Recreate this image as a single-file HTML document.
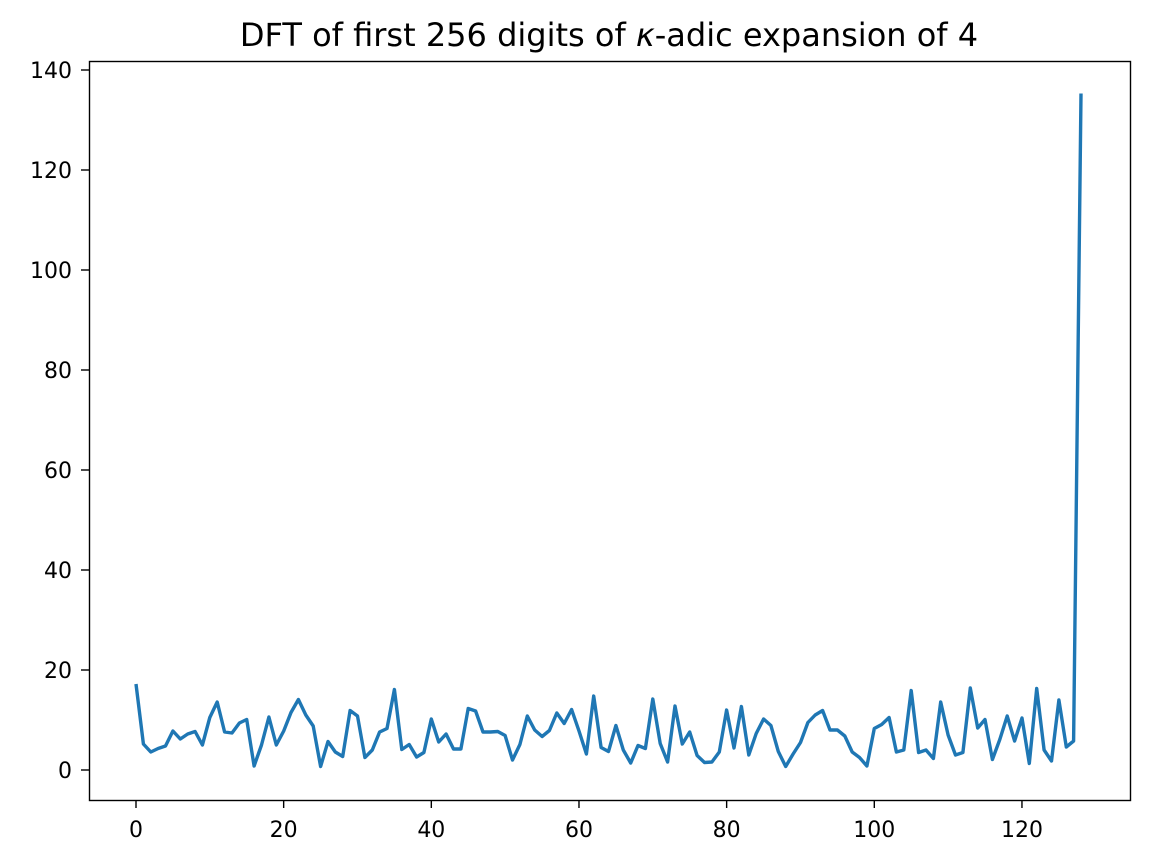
<!DOCTYPE html>
<html><head><meta charset="utf-8"><style>body{margin:0;background:#fff}svg{display:block}text{font-family:"DejaVu Sans","Liberation Sans",sans-serif;fill:#000}</style></head>
<body>
<svg id="s" width="1149" height="864" viewBox="0 0 1149 864">
<rect width="1149" height="864" fill="#fff"/>
<text x="609" y="46" font-size="32" text-anchor="middle">DFT of first 256 digits of <tspan font-style="italic">κ</tspan>-adic expansion of 4</text>
<g id="ticks" font-size="22"></g>
<polyline id="ln" fill="none" stroke="#1f77b4" stroke-width="3.4" stroke-linejoin="round" points=""/>
<rect x="89.5" y="61.5" width="1041" height="739" fill="none" stroke="#000" stroke-width="1.4"/>
</svg>
<script>
var v=[17.2,5.2,3.6,4.3,4.8,7.8,6.2,7.2,7.7,5.0,10.5,13.6,7.6,7.4,9.4,10.1,0.8,5.0,10.6,5.0,7.8,11.5,14.1,11.0,8.8,0.7,5.7,3.6,2.7,11.9,10.8,2.5,4.0,7.6,8.3,16.1,4.1,5.1,2.6,3.5,10.2,5.6,7.2,4.2,4.2,12.3,11.8,7.6,7.6,7.7,6.9,2.0,5.1,10.8,8.0,6.7,7.9,11.4,9.3,12.1,7.8,3.2,14.8,4.5,3.7,8.9,4.0,1.4,4.9,4.3,14.2,5.3,1.6,12.8,5.2,7.6,2.9,1.5,1.6,3.6,12.0,4.4,12.7,3.0,7.3,10.2,8.9,3.7,0.7,3.2,5.5,9.5,11.0,11.9,8.0,8.0,6.8,3.6,2.5,0.8,8.3,9.1,10.5,3.6,4.0,15.9,3.5,4.0,2.3,13.6,7.0,3.0,3.5,16.4,8.4,10.1,2.1,6.1,10.8,5.8,10.4,1.3,16.3,4.0,1.8,14.0,4.6,5.8,135.3];
function X(i){return 136+i*7.383;}function Y(y){return 770-y*5.0;}
document.getElementById('ln').setAttribute('points',v.map(function(y,i){return X(i).toFixed(1)+','+Y(y).toFixed(1)}).join(' '));
var g=document.getElementById('ticks'),h='';
for(var i=0;i<=120;i+=20){var x=X(i);h+='<line x1="'+x+'" x2="'+x+'" y1="800" y2="808" stroke="#000" stroke-width="1.4"/><text x="'+x+'" y="837" text-anchor="middle">'+i+'</text>';}
for(var j=0;j<=140;j+=20){var y=Y(j);h+='<line x1="81" x2="89" y1="'+y+'" y2="'+y+'" stroke="#000" stroke-width="1.4"/><text x="72" y="'+(y+8)+'" text-anchor="end">'+j+'</text>';}
g.innerHTML=h;
</script>
</body></html>
